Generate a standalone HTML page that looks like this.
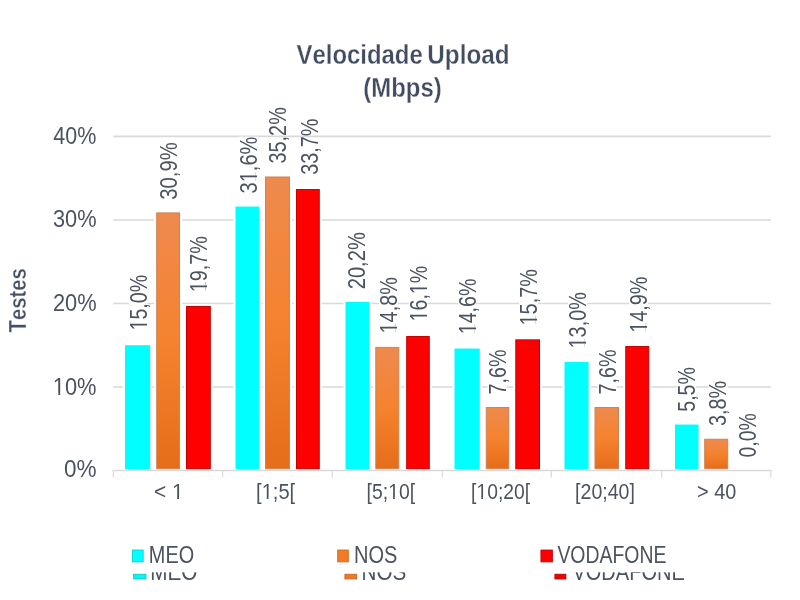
<!DOCTYPE html>
<html><head><meta charset="utf-8"><style>
html,body{margin:0;padding:0;background:#fff;}
svg{display:block;font-family:"Liberation Sans",sans-serif;filter:blur(0.4px);}
text{font-kerning:none;}
</style></head><body>
<svg width="800" height="600" viewBox="0 0 800 600">
<defs>
<clipPath id="c0" clipPathUnits="userSpaceOnUse"><rect x="-50" y="-200" width="2000" height="198.19"/><rect x="-50.00" y="-1.82" width="51.20" height="100"/><rect x="5.93" y="-1.82" width="2.09" height="100"/><rect x="12.57" y="-1.82" width="2000.00" height="100"/></clipPath><clipPath id="c1" clipPathUnits="userSpaceOnUse"><rect x="-50" y="-200" width="2000" height="198.19"/><rect x="-50.00" y="-1.82" width="51.20" height="100"/><rect x="5.93" y="-1.82" width="2.09" height="100"/><rect x="12.57" y="-1.82" width="2000.00" height="100"/></clipPath><clipPath id="c2" clipPathUnits="userSpaceOnUse"><rect x="-50" y="-200" width="2000" height="198.19"/><rect x="-50.00" y="-1.82" width="64.32" height="100"/><rect x="19.06" y="-1.82" width="2.09" height="100"/><rect x="25.70" y="-1.82" width="2000.00" height="100"/></clipPath><clipPath id="c3" clipPathUnits="userSpaceOnUse"><rect x="-50" y="-200" width="2000" height="198.19"/><rect x="-50.00" y="-1.82" width="51.20" height="100"/><rect x="5.93" y="-1.82" width="2.09" height="100"/><rect x="12.57" y="-1.82" width="2000.00" height="100"/></clipPath><clipPath id="c4" clipPathUnits="userSpaceOnUse"><rect x="-50" y="-200" width="2000" height="198.19"/><rect x="-50.00" y="-1.82" width="51.20" height="100"/><rect x="5.93" y="-1.82" width="2.09" height="100"/><rect x="12.57" y="-1.82" width="21.43" height="100"/><rect x="38.74" y="-1.82" width="2.09" height="100"/><rect x="45.38" y="-1.82" width="2000.00" height="100"/></clipPath><clipPath id="c5" clipPathUnits="userSpaceOnUse"><rect x="-50" y="-200" width="2000" height="198.19"/><rect x="-50.00" y="-1.82" width="51.20" height="100"/><rect x="5.93" y="-1.82" width="2.09" height="100"/><rect x="12.57" y="-1.82" width="2000.00" height="100"/></clipPath><clipPath id="c6" clipPathUnits="userSpaceOnUse"><rect x="-50" y="-200" width="2000" height="198.19"/><rect x="-50.00" y="-1.82" width="51.20" height="100"/><rect x="5.93" y="-1.82" width="2.09" height="100"/><rect x="12.57" y="-1.82" width="2000.00" height="100"/></clipPath><clipPath id="c7" clipPathUnits="userSpaceOnUse"><rect x="-50" y="-200" width="2000" height="198.19"/><rect x="-50.00" y="-1.82" width="51.20" height="100"/><rect x="5.93" y="-1.82" width="2.09" height="100"/><rect x="12.57" y="-1.82" width="2000.00" height="100"/></clipPath><clipPath id="c8" clipPathUnits="userSpaceOnUse"><rect x="-50" y="-200" width="2000" height="198.19"/><rect x="-50.00" y="-1.82" width="51.20" height="100"/><rect x="5.93" y="-1.82" width="2.09" height="100"/><rect x="12.57" y="-1.82" width="2000.00" height="100"/></clipPath><clipPath id="c9" clipPathUnits="userSpaceOnUse"><rect x="-50" y="-200" width="2000" height="198.21"/><rect x="-50.00" y="-1.80" width="51.17" height="100"/><rect x="5.86" y="-1.80" width="2.06" height="100"/><rect x="12.42" y="-1.80" width="2000.00" height="100"/></clipPath><clipPath id="c10" clipPathUnits="userSpaceOnUse"><rect x="-50" y="-200" width="2000" height="198.27"/><rect x="-50.00" y="-1.74" width="70.50" height="100"/><rect x="25.05" y="-1.74" width="1.99" height="100"/><rect x="31.41" y="-1.74" width="2000.00" height="100"/></clipPath><clipPath id="c11" clipPathUnits="userSpaceOnUse"><rect x="-50" y="-200" width="2000" height="198.27"/><rect x="-50.00" y="-1.74" width="57.37" height="100"/><rect x="11.91" y="-1.74" width="1.99" height="100"/><rect x="18.27" y="-1.74" width="2000.00" height="100"/></clipPath><clipPath id="c12" clipPathUnits="userSpaceOnUse"><rect x="-50" y="-200" width="2000" height="198.27"/><rect x="-50.00" y="-1.74" width="76.13" height="100"/><rect x="30.67" y="-1.74" width="1.99" height="100"/><rect x="37.03" y="-1.74" width="2000.00" height="100"/></clipPath><clipPath id="c13" clipPathUnits="userSpaceOnUse"><rect x="-50" y="-200" width="2000" height="198.27"/><rect x="-50.00" y="-1.74" width="57.37" height="100"/><rect x="11.91" y="-1.74" width="1.99" height="100"/><rect x="18.27" y="-1.74" width="2000.00" height="100"/></clipPath>
<linearGradient id="og" x1="0" y1="0" x2="0" y2="1"><stop offset="0" stop-color="#EE8A4E"/><stop offset="0.5" stop-color="#F5822E"/><stop offset="1" stop-color="#E66D1A"/></linearGradient>
</defs>
<rect width="800" height="600" fill="#fff"/>
<line x1="113.3" y1="386.98" x2="771" y2="386.98" stroke="#D9D9D9" stroke-width="1.6"/><line x1="113.3" y1="303.46" x2="771" y2="303.46" stroke="#D9D9D9" stroke-width="1.6"/><line x1="113.3" y1="219.94" x2="771" y2="219.94" stroke="#D9D9D9" stroke-width="1.6"/><line x1="113.3" y1="136.42" x2="771" y2="136.42" stroke="#D9D9D9" stroke-width="1.6"/>
<line x1="112.5" y1="470.5" x2="771.5" y2="470.5" stroke="#D9D9D9" stroke-width="1.5"/><line x1="113.30" y1="470" x2="113.30" y2="477.5" stroke="#DCDCDC" stroke-width="1.3"/><line x1="222.60" y1="470" x2="222.60" y2="477.5" stroke="#DCDCDC" stroke-width="1.3"/><line x1="332.25" y1="470" x2="332.25" y2="477.5" stroke="#DCDCDC" stroke-width="1.3"/><line x1="442.25" y1="470" x2="442.25" y2="477.5" stroke="#DCDCDC" stroke-width="1.3"/><line x1="551.30" y1="470" x2="551.30" y2="477.5" stroke="#DCDCDC" stroke-width="1.3"/><line x1="661.75" y1="470" x2="661.75" y2="477.5" stroke="#DCDCDC" stroke-width="1.3"/><line x1="770.80" y1="470" x2="770.80" y2="477.5" stroke="#DCDCDC" stroke-width="1.3"/>
<rect x="123" y="343.22" width="29.20" height="125.98" fill="#fff"/><rect x="125" y="345.22" width="25.20" height="123.98" fill="#00FFFF"/><rect x="128.70" y="274.95" width="19.00" height="54.25" fill="#fff"/><rect x="154.2" y="210.42" width="27.80" height="258.78" fill="#fff"/><rect x="156.7" y="212.92" width="22.80" height="255.78" fill="url(#og)" stroke="#CD8352" stroke-width="1"/><rect x="158.70" y="142.40" width="18.40" height="57.15" fill="#fff"/><rect x="184" y="303.97" width="28.80" height="165.23" fill="#fff"/><rect x="186.5" y="306.47" width="23.80" height="162.23" fill="#FF0000" stroke="#C40000" stroke-width="1"/><rect x="189.25" y="236.10" width="18.45" height="54.90" fill="#fff"/><rect x="233.5" y="204.58" width="27.80" height="264.62" fill="#fff"/><rect x="235.5" y="206.58" width="23.80" height="262.62" fill="#00FFFF"/><rect x="239.10" y="136.70" width="19.00" height="56.60" fill="#fff"/><rect x="263" y="174.51" width="29.00" height="294.69" fill="#fff"/><rect x="265.5" y="177.01" width="24.00" height="291.69" fill="url(#og)" stroke="#CD8352" stroke-width="1"/><rect x="294" y="187.04" width="27.75" height="282.16" fill="#fff"/><rect x="296.5" y="189.54" width="22.75" height="279.16" fill="#FF0000" stroke="#C40000" stroke-width="1"/><rect x="343.5" y="299.79" width="27.80" height="169.41" fill="#fff"/><rect x="345.5" y="301.79" width="23.80" height="167.41" fill="#00FFFF"/><rect x="347.50" y="232.30" width="19.60" height="56.60" fill="#fff"/><rect x="373.3" y="344.89" width="28.00" height="124.31" fill="#fff"/><rect x="375.8" y="347.39" width="23.00" height="121.31" fill="url(#og)" stroke="#CD8352" stroke-width="1"/><rect x="379.10" y="277.30" width="19.00" height="54.80" fill="#fff"/><rect x="404.2" y="334.03" width="27.55" height="135.17" fill="#fff"/><rect x="406.7" y="336.53" width="22.55" height="132.17" fill="#FF0000" stroke="#C40000" stroke-width="1"/><rect x="408.70" y="265.90" width="19.00" height="54.20" fill="#fff"/><rect x="452.5" y="346.56" width="29.25" height="122.64" fill="#fff"/><rect x="454.5" y="348.56" width="25.25" height="120.64" fill="#00FFFF"/><rect x="458.10" y="278.70" width="18.00" height="54.30" fill="#fff"/><rect x="483.75" y="405.02" width="27.55" height="64.18" fill="#fff"/><rect x="486.25" y="407.52" width="22.55" height="61.18" fill="url(#og)" stroke="#CD8352" stroke-width="1"/><rect x="487.70" y="349.60" width="19.00" height="44.40" fill="#fff"/><rect x="513.3" y="337.37" width="28.70" height="131.83" fill="#fff"/><rect x="515.8" y="339.87" width="23.70" height="128.83" fill="#FF0000" stroke="#C40000" stroke-width="1"/><rect x="519.10" y="269.30" width="19.00" height="54.80" fill="#fff"/><rect x="562.5" y="359.92" width="28.00" height="109.28" fill="#fff"/><rect x="564.5" y="361.92" width="24.00" height="107.28" fill="#00FFFF"/><rect x="568.10" y="292.30" width="19.00" height="54.80" fill="#fff"/><rect x="592.5" y="405.02" width="28.50" height="64.18" fill="#fff"/><rect x="595.0" y="407.52" width="23.50" height="61.18" fill="url(#og)" stroke="#CD8352" stroke-width="1"/><rect x="597.70" y="349.60" width="19.00" height="44.40" fill="#fff"/><rect x="623.25" y="344.06" width="28.00" height="125.14" fill="#fff"/><rect x="625.75" y="346.56" width="23.00" height="122.14" fill="#FF0000" stroke="#C40000" stroke-width="1"/><rect x="629.10" y="276.70" width="19.00" height="54.85" fill="#fff"/><rect x="673" y="422.56" width="27.50" height="46.64" fill="#fff"/><rect x="675" y="424.56" width="23.50" height="44.64" fill="#00FFFF"/><rect x="677.00" y="367.20" width="19.10" height="44.35" fill="#fff"/><rect x="702.2" y="436.76" width="28.00" height="32.44" fill="#fff"/><rect x="704.7" y="439.26" width="23.00" height="29.44" fill="url(#og)" stroke="#CD8352" stroke-width="1"/><rect x="708.30" y="380.95" width="19.20" height="44.95" fill="#fff"/><rect x="738.00" y="413.20" width="19.00" height="44.10" fill="#fff"/>
<text transform="translate(146.67,330.49) rotate(-90) scale(0.8314,1)" font-size="23.6" font-weight="normal" fill="#4C5360" clip-path="url(#c0)">15,0%</text><text transform="translate(176.67,199.72) rotate(-90) scale(0.8584,1)" font-size="23.6" font-weight="normal" fill="#4C5360">30,9%</text><text transform="translate(207.22,292.31) rotate(-90) scale(0.8416,1)" font-size="23.6" font-weight="normal" fill="#4C5360" clip-path="url(#c1)">19,7%</text><text transform="translate(257.07,193.46) rotate(-90) scale(0.8500,1)" font-size="23.6" font-weight="normal" fill="#4C5360" clip-path="url(#c2)">31,6%</text><text transform="translate(286.47,163.46) rotate(-90) scale(0.8408,1)" font-size="23.6" font-weight="normal" fill="#4C5360">35,2%</text><text transform="translate(317.67,174.86) rotate(-90) scale(0.8408,1)" font-size="23.6" font-weight="normal" fill="#4C5360">33,7%</text><text transform="translate(365.47,289.31) rotate(-90) scale(0.8538,1)" font-size="23.6" font-weight="normal" fill="#4C5360">20,2%</text><text transform="translate(397.07,333.41) rotate(-90) scale(0.8401,1)" font-size="23.6" font-weight="normal" fill="#4C5360" clip-path="url(#c3)">14,8%</text><text transform="translate(426.67,321.39) rotate(-90) scale(0.8307,1)" font-size="23.6" font-weight="normal" fill="#4C5360" clip-path="url(#c4)">16,1%</text><text transform="translate(476.07,334.29) rotate(-90) scale(0.8322,1)" font-size="23.6" font-weight="normal" fill="#4C5360" clip-path="url(#c5)">14,6%</text><text transform="translate(505.67,394.41) rotate(-90) scale(0.8349,1)" font-size="23.6" font-weight="normal" fill="#4C5360">7,6%</text><text transform="translate(537.07,325.41) rotate(-90) scale(0.8401,1)" font-size="23.6" font-weight="normal" fill="#4C5360" clip-path="url(#c6)">15,7%</text><text transform="translate(586.07,348.41) rotate(-90) scale(0.8401,1)" font-size="23.6" font-weight="normal" fill="#4C5360" clip-path="url(#c7)">13,0%</text><text transform="translate(615.67,394.41) rotate(-90) scale(0.8349,1)" font-size="23.6" font-weight="normal" fill="#4C5360">7,6%</text><text transform="translate(647.07,332.86) rotate(-90) scale(0.8408,1)" font-size="23.6" font-weight="normal" fill="#4C5360" clip-path="url(#c8)">14,9%</text><text transform="translate(694.97,411.73) rotate(-90) scale(0.8297,1)" font-size="23.6" font-weight="normal" fill="#4C5360">5,5%</text><text transform="translate(726.27,426.06) rotate(-90) scale(0.8405,1)" font-size="23.6" font-weight="normal" fill="#4C5360">3,8%</text><text transform="translate(755.97,457.46) rotate(-90) scale(0.8246,1)" font-size="23.6" font-weight="normal" fill="#4C5360">0,0%</text><text transform="translate(64.02,477.10) scale(0.9676,1)" font-size="23.3" font-weight="normal" fill="#4C5360">0%</text><text transform="translate(52.80,394.60) scale(0.9389,1)" font-size="23.3" font-weight="normal" fill="#4C5360" clip-path="url(#c9)">10%</text><text transform="translate(52.90,310.70) scale(0.9366,1)" font-size="23.3" font-weight="normal" fill="#4C5360">20%</text><text transform="translate(52.97,226.50) scale(0.9351,1)" font-size="23.3" font-weight="normal" fill="#4C5360">30%</text><text transform="translate(53.31,143.60) scale(0.9234,1)" font-size="23.3" font-weight="normal" fill="#4C5360">40%</text><text transform="translate(153.97,498.70) scale(0.9256,1)" font-size="22.5" font-weight="normal" fill="#4C5360" clip-path="url(#c10)">&lt; 1</text><text transform="translate(256.07,498.70) scale(0.8928,1)" font-size="22.5" font-weight="normal" fill="#4C5360" clip-path="url(#c11)">[1;5[</text><text transform="translate(366.62,498.70) scale(0.8622,1)" font-size="22.5" font-weight="normal" fill="#4C5360" clip-path="url(#c12)">[5;10[</text><text transform="translate(471.12,498.70) scale(0.8579,1)" font-size="22.5" font-weight="normal" fill="#4C5360" clip-path="url(#c13)">[10;20[</text><text transform="translate(575.11,498.70) scale(0.8689,1)" font-size="22.5" font-weight="normal" fill="#4C5360">[20;40]</text><text transform="translate(697.02,498.70) scale(0.8838,1)" font-size="22.5" font-weight="normal" fill="#4C5360">&gt; 40</text><text transform="translate(296.54,63.70) scale(0.8542,1)" font-size="28" font-weight="bold" fill="#434D61" stroke="#fff" stroke-width="0.3">Velocidade</text><text transform="translate(427.29,63.70) scale(0.8675,1)" font-size="28" font-weight="bold" fill="#434D61" stroke="#fff" stroke-width="0.3">Upload</text><text transform="translate(363.31,97.20) scale(0.8543,1)" font-size="28" font-weight="bold" fill="#434D61" stroke="#fff" stroke-width="0.3">(Mbps)</text><text transform="translate(26.00,332.43) rotate(-90) scale(0.8630,1)" font-size="23.5" font-weight="bold" fill="#465064" stroke="#fff" stroke-width="0.3">Testes</text>
<rect x="133.6" y="574.2" width="12.399999999999999" height="4.8" fill="#10F2F2" stroke="#00C8C8" stroke-width="0.8"/><text transform="translate(150.30,580.20) scale(0.8816,1)" font-size="23.5" font-weight="normal" fill="#4C5260">MEO</text><rect x="344.9" y="574.2" width="11.899999999999999" height="4.8" fill="#EC7A28" stroke="#C86420" stroke-width="0.8"/><text transform="translate(361.50,580.20) scale(0.8807,1)" font-size="23.5" font-weight="normal" fill="#4C5260">NOS</text><rect x="554.9" y="574.2" width="11.0" height="4.8" fill="#F00000" stroke="#B00000" stroke-width="0.8"/><text transform="translate(572.41,580.20) scale(0.8527,1)" font-size="23.5" font-weight="normal" fill="#4C5260">VODAFONE</text>
<rect x="120" y="540" width="580" height="32.3" fill="#fff"/>
<rect x="132.4" y="550.0" width="10.799999999999999" height="11.9" fill="#00FFFF" stroke="#00D0D0" stroke-width="0.8"/><text transform="translate(148.87,563.30) scale(0.8459,1)" font-size="23.5" font-weight="normal" fill="#4C5260">MEO</text><rect x="337.7" y="550.0" width="10.6" height="11.9" fill="#F27A22" stroke="#C86420" stroke-width="0.8"/><text transform="translate(353.96,563.30) scale(0.8515,1)" font-size="23.5" font-weight="normal" fill="#4C5260">NOS</text><rect x="540.9" y="550.0" width="11.5" height="11.9" fill="#FF0000" stroke="#C00000" stroke-width="0.8"/><text transform="translate(557.41,563.30) scale(0.8274,1)" font-size="23.5" font-weight="normal" fill="#4C5260">VODAFONE</text>
</svg>
</body></html>
